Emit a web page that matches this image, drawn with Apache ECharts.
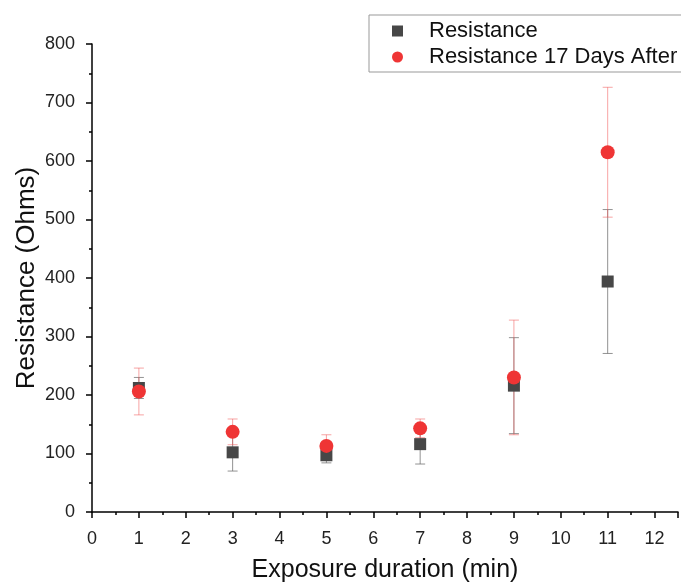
<!DOCTYPE html>
<html>
<head>
<meta charset="utf-8">
<script src="https://cdn.jsdelivr.net/npm/echarts@6/dist/echarts.min.js"></script>
<style>
  html, body { margin: 0; padding: 0; background: #fff; }
  #chart { width: 681px; height: 583px; }
</style>
</head>
<body>
<div id="chart"></div>
<script>
// exposure duration (min)
const durations = [1, 3, 5, 7, 9, 11];
// resistance (Ohms) right after and 17 days after, with error half-widths
const resistance = [212, 102, 97, 116, 216, 394];
const resistanceErr = [18, 32, 13, 34, 82, 123];
const resistanceAfter = [206, 137, 113, 143, 230, 615];
const resistanceAfterErr = [40, 22, 19, 16, 98, 111];

const FONT = "'Liberation Sans', Arial, sans-serif";

function points(vals) {
    return durations.map((x, i) => [x, vals[i]]);
}
function errRows(vals, errs) {
    return durations.map((x, i) => [x, vals[i] - errs[i], vals[i] + errs[i]]);
}
function errBar(color) {
    return function (params, api) {
        const x = api.value(0);
        const lo = api.coord([x, api.value(1)]);
        const hi = api.coord([x, api.value(2)]);
        const w = 5;
        const style = { stroke: color, lineWidth: 1 };
        return {
            type: 'group',
            children: [
                { type: 'line', shape: { x1: lo[0], y1: lo[1], x2: hi[0], y2: hi[1] }, style: style },
                { type: 'line', shape: { x1: hi[0] - w, y1: hi[1], x2: hi[0] + w, y2: hi[1] }, style: style },
                { type: 'line', shape: { x1: lo[0] - w, y1: lo[1], x2: lo[0] + w, y2: lo[1] }, style: style }
            ]
        };
    };
}

const chart = echarts.init(document.getElementById('chart'));
chart.setOption({
    backgroundColor: '#fff',
    animation: false,
    textStyle: { fontFamily: FONT },
    grid: { left: 92, top: 44, bottom: 71, right: 3, outerBoundsMode: 'none', containLabel: false },
    legend: {
        orient: 'vertical',
        left: 369,
        top: 15,
        padding: [5, 60, 4, 23],
        itemGap: 4,
        borderColor: '#999',
        borderWidth: 1,
        itemWidth: 11,
        itemHeight: 11,
        textStyle: { fontSize: 22, lineHeight: 22, color: '#111', fontFamily: FONT, padding: [0, 0, 0, 21] },
        data: [
            { name: 'Resistance', icon: 'rect' },
            { name: 'Resistance 17 Days After', icon: 'circle' }
        ]
    },
    xAxis: {
        type: 'value',
        min: 0,
        max: 12.5,
        interval: 1,
        name: 'Exposure duration (min)',
        nameLocation: 'middle',
        nameGap: 46,
        nameMoveOverlap: false,
        nameTextStyle: { fontSize: 25, color: '#111', fontFamily: FONT },
        axisLine: { onZero: false, lineStyle: { color: '#000', width: 1.5 } },
        axisTick: { inside: false, length: 6, lineStyle: { color: '#000', width: 1.5 } },
        minorTick: { show: true, splitNumber: 2, length: 3, lineStyle: { color: '#000', width: 1.5 } },
        axisLabel: {
            fontSize: 18, color: '#222', margin: 18, fontFamily: FONT,
            formatter: v => (Number.isInteger(v) ? String(v) : '')
        },
        splitLine: { show: false }
    },
    yAxis: {
        type: 'value',
        min: 0,
        max: 800,
        interval: 100,
        name: 'Resistance (Ohms)',
        nameLocation: 'middle',
        nameGap: 52,
        nameMoveOverlap: false,
        nameTextStyle: { fontSize: 26, color: '#111', fontFamily: FONT },
        axisLine: { show: true, lineStyle: { color: '#000', width: 1.5 } },
        axisTick: { show: true, inside: false, length: 6, lineStyle: { color: '#000', width: 1.5 } },
        minorTick: { show: true, splitNumber: 2, length: 3, lineStyle: { color: '#000', width: 1.5 } },
        axisLabel: { fontSize: 18, color: '#222', margin: 17, fontFamily: FONT },
        splitLine: { show: false }
    },
    series: [
        {
            type: 'custom',
            name: 'resErr',
            renderItem: errBar('rgba(110,110,110,0.75)'),
            encode: { x: 0, y: [1, 2] },
            data: errRows(resistance, resistanceErr),
            z: 1
        },
        {
            type: 'custom',
            name: 'afterErr',
            renderItem: errBar('rgba(240,90,90,0.55)'),
            encode: { x: 0, y: [1, 2] },
            data: errRows(resistanceAfter, resistanceAfterErr),
            z: 2
        },
        {
            type: 'scatter',
            name: 'Resistance',
            symbol: 'rect',
            symbolSize: 12,
            itemStyle: { color: '#474747', opacity: 1 },
            data: points(resistance),
            z: 3
        },
        {
            type: 'scatter',
            name: 'Resistance 17 Days After',
            symbol: 'circle',
            symbolSize: 14,
            itemStyle: { color: '#ef3535', opacity: 1 },
            data: points(resistanceAfter),
            z: 4
        }
    ]
});
</script>
</body>
</html>
